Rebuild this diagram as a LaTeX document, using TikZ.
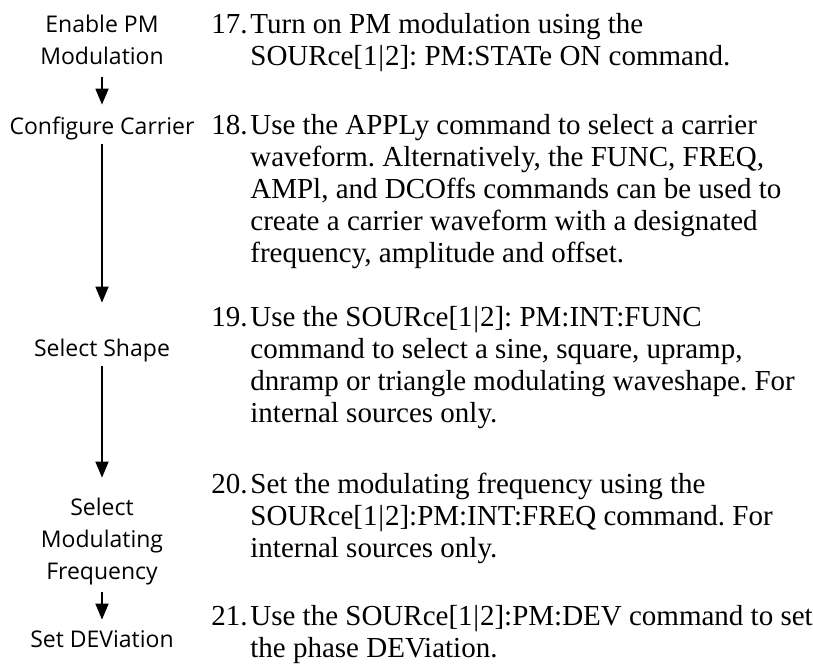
\documentclass[tikz,border=0pt]{standalone}
\usepackage{fontspec}
\setmainfont{Liberation Serif}
\newfontfamily\stepfont{Open Sans}
\usetikzlibrary{arrows.meta}
\usetikzlibrary{positioning}
\frenchspacing

\begin{document}
\begin{tikzpicture}[
	x=0.5pt, y=-0.5pt,
  > = {Triangle[width=6.5pt,length=8pt]},
  steplabel/.style = {anchor=base, inner sep=0pt, font=\stepfont\fontsize{11.5}{16}\selectfont},
  stepnote/.style = {anchor=base west, inner sep=0pt, font=\fontsize{14.5}{16}\selectfont},
  flow/.style = {->, line width=0.9pt}
  ]
	\useasboundingbox (0,0) rectangle (813,665);

	\node[steplabel] (enable) at (102,32) {\begin{tabular}[t]{@{}c@{}}Enable PM\\Modulation\end{tabular}};
	\node[steplabel] (carrier) at (102,134) {\begin{tabular}[t]{@{}c@{}}Configure Carrier\end{tabular}};
	\node[steplabel] (shape) at (102,356) {\begin{tabular}[t]{@{}c@{}}Select Shape\end{tabular}};
	\node[steplabel] (freq) at (102,515) {\begin{tabular}[t]{@{}c@{}}Select\\Modulating\\Frequency\end{tabular}};
	\node[steplabel] (dev) at (102,647) {\begin{tabular}[t]{@{}c@{}}Set DEViation\end{tabular}};

	\node[stepnote] (n17) at (211,33) {\begin{tabular}[t]{@{}p{19.5pt}@{}l@{}}
		17. & Turn on PM modulation using the\\
		    & SOURce[1\kern.4pt|\kern.4pt2]: PM:STATe ON command.\end{tabular}};
	\node[stepnote] (n18) at (211,134) {\begin{tabular}[t]{@{}p{19.5pt}@{}l@{}}
		18. & Use the APPLy command to select a carrier\\
		    & waveform. Alternatively, the FUNC, FREQ,\\
		    & AMPl, and DCOffs commands can be used to\\
		    & create a carrier waveform with a designated\\
		    & frequency, amplitude and offset.\end{tabular}};
	\node[stepnote] (n19) at (211,326) {\begin{tabular}[t]{@{}p{19.5pt}@{}l@{}}
		19. & Use the SOURce[1\kern.4pt|\kern.4pt2]: PM:INT:FUNC\\
		    & command to select a sine, square, upramp,\\
		    & dnramp or triangle modulating waveshape. For\\
		    & internal sources only.\end{tabular}};
	\node[stepnote] (n20) at (211,493) {\begin{tabular}[t]{@{}p{19.5pt}@{}l@{}}
		20. & Set the modulating frequency using the\\
		    & SOURce[1\kern.4pt|\kern.4pt2]:PM:INT:FREQ command. For\\
		    & internal sources only.\end{tabular}};
	\node[stepnote] (n21) at (211,625) {\begin{tabular}[t]{@{}p{19.5pt}@{}l@{}}
		21. & Use the SOURce[1\kern.4pt|\kern.4pt2]:PM:DEV command to set\\
		    & the phase DEViation.\end{tabular}};

	\draw[flow, shorten <=1.7pt, shorten >=3.3pt] (enable) -- (carrier);
	\draw[flow, shorten >=15.3pt] (carrier) -- (shape);
	\draw[flow, shorten >=7.3pt] (shape) -- (freq);
	\draw[flow, shorten <=1.7pt, shorten >=2.3pt] (freq) -- (dev);

\end{tikzpicture}
\end{document}
